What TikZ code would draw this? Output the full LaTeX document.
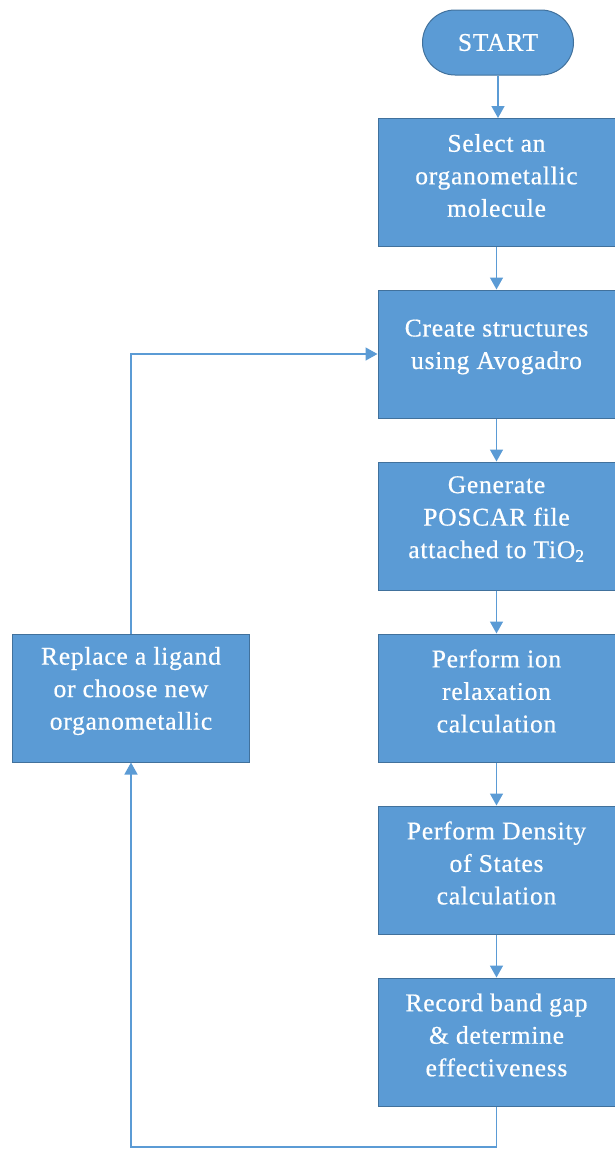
\documentclass[tikz,border=0pt]{standalone}
\usepackage{fontspec}
\setmainfont[LetterSpace=3,FakeBold=0.6]{Liberation Serif}
\usetikzlibrary{arrows.meta,shapes.misc}
\definecolor{boxfill}{HTML}{5B9BD5}
\definecolor{boxedge}{HTML}{41719C}
\definecolor{linec}{HTML}{5B9BD5}
\begin{document}
\begin{tikzpicture}[x=1pt,y=1pt,
  stepbox/.style={rectangle,draw=boxedge,line width=1pt,fill=boxfill,minimum width=237pt,minimum height=128pt,inner sep=0pt},
  txt/.style={text=white,align=center,font=\fontsize{25.5}{32.5}\selectfont,inner sep=0pt},
  startbox/.style={rounded rectangle,draw=boxedge,line width=1pt,fill=boxfill,minimum width=151pt,minimum height=65pt,inner sep=0pt,text=white,font=\fontsize{25.5}{32.5}\selectfont},
  conn/.style={draw=linec,line width=1.5pt,-{Triangle[length=12pt,width=13pt]}},
  loopline/.style={draw=linec,line width=1.5pt}]
\useasboundingbox (0,0) rectangle (614,-1149);
\node[startbox] (start) at (498,-42.5) {START};
\node[stepbox] (b1) at (496.5,-182.5) {};
\node[stepbox] (b2) at (496.5,-354) {};
\node[stepbox] (b3) at (496.5,-526) {};
\node[stepbox] (b4) at (496.5,-698) {};
\node[stepbox] (b5) at (496.5,-870) {};
\node[stepbox] (b6) at (496.5,-1042) {};
\node[stepbox] (lb) at (131,-698) {};
\node[txt] (t1) at ([yshift=7]b1.center) {Select an\\organometallic\\molecule};
\node[txt] (t2) at ([yshift=7]b2.center) {Create structures\\using Avogadro};
\node[txt] (t3) at ([yshift=7]b3.center) {Generate\\POSCAR file\\attached to TiO\textsubscript{2}};
\node[txt] (t4) at ([yshift=7]b4.center) {Perform ion\\relaxation\\calculation};
\node[txt] (t5) at ([yshift=7]b5.center) {Perform Density\\of States\\calculation};
\node[txt] (t6) at ([yshift=7]b6.center) {Record band gap\\\& determine\\effectiveness};
\node[txt] (tl) at ([yshift=7]lb.center) {Replace a ligand\\or choose new\\organometallic};
\draw[conn] (start.south) -- (start.south |- b1.north);
\draw[conn] (b1.south) -- (b2.north);
\draw[conn] (b2.south) -- (b3.north);
\draw[conn] (b3.south) -- (b4.north);
\draw[conn] (b4.south) -- (b5.north);
\draw[conn] (b5.south) -- (b6.north);
\coordinate (bl) at (131,-1147);
\draw[conn] (b6.south) |- (bl) -- (lb.south);
\draw[conn] (lb.north) |- (b2.west);
\end{tikzpicture}
\end{document}
